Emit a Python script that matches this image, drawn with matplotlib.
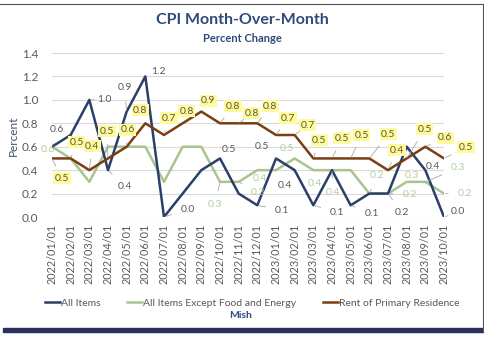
import matplotlib.pyplot as plt
from matplotlib.lines import Line2D
from matplotlib.patches import Rectangle

plt.rcParams["font.family"] = ["Lato", "DejaVu Sans"]

months = [
    "2022/01/01", "2022/02/01", "2022/03/01", "2022/04/01", "2022/05/01",
    "2022/06/01", "2022/07/01", "2022/08/01", "2022/09/01", "2022/10/01",
    "2022/11/01", "2022/12/01", "2023/01/01", "2023/02/01", "2023/03/01",
    "2023/04/01", "2023/05/01", "2023/06/01", "2023/07/01", "2023/08/01",
    "2023/09/01", "2023/10/01",
]
all_items = [0.6, 0.7, 1.0, 0.4, 0.9, 1.2, 0.0, 0.2, 0.4, 0.5, 0.2,
             0.1, 0.5, 0.4, 0.1, 0.4, 0.1, 0.2, 0.2, 0.6, 0.4, 0.0]
core = [0.6, 0.5, 0.3, 0.6, 0.6, 0.6, 0.3, 0.6, 0.6, 0.3, 0.3,
        0.4, 0.4, 0.5, 0.4, 0.4, 0.4, 0.2, 0.2, 0.3, 0.3, 0.2]
rent = [0.5, 0.5, 0.4, 0.5, 0.6, 0.8, 0.7, 0.8, 0.9, 0.8, 0.8,
        0.8, 0.7, 0.7, 0.5, 0.5, 0.5, 0.5, 0.4, 0.5, 0.6, 0.5]

# which points carry a data label, and where the label sits (pixel offsets)
blue_labels = {0: (5, 17), 2: (15, 0), 3: (17, -16), 4: (-2, 24), 5: (13, 5),
               6: (24, 8), 9: (9, 9), 11: (25, -5), 12: (-14, 12),
               13: (-10, -15), 14: (24, -7), 16: (21, -8), 18: (14, -19),
               20: (8, 4), 21: (14, 5)}
green_labels = {0: (-4, -3), 9: (-5, -23), 10: (19, -11), 11: (3, -8),
                13: (-8, 10), 14: (2, -13), 15: (1, -22), 17: (8, 18),
                18: (22, -1), 19: (5, 6), 20: (33, 14), 21: (21, 0)}
rent_labels = {0: (10, -20), 1: (6, 16), 2: (3, 24), 3: (-1, 27), 4: (1, 17),
               5: (-5, 13), 6: (5, 17), 7: (4, 12), 8: (7, 11), 9: (13, 17),
               10: (13, 10), 11: (13, 17), 12: (12, 17), 13: (13, 10),
               14: (6, 18), 15: (10, 20), 16: (11, 23), 17: (19, 24),
               18: (9, 20), 19: (18, 29), 20: (20, 9), 21: (22, 11)}

BLUE = "#2B3F6B"
GREEN = "#A9C490"
BROWN = "#7A3E12"
TITLE = "#2F4B7C"


def add_labels(ax, values, labels, color, box=None):
    for i, (dx, dy) in labels.items():
        lead = (dx * dx + dy * dy) ** 0.5 > 14
        ax.annotate(
            f"{values[i]:.1f}", xy=(i, values[i]), xytext=(dx, dy),
            textcoords="offset pixels", ha="center", va="center",
            fontsize=7.5, color=color, bbox=box, zorder=5,
            arrowprops=dict(arrowstyle="-", color="#A6A6A6", lw=0.6,
                            shrinkA=5, shrinkB=1) if lead else None,
        )


def main():
    fig = plt.figure(figsize=(4.85, 3.37), dpi=100)
    ax = fig.add_axes([52 / 485, 1 - 217 / 337, 392 / 485, 164 / 337])

    x = range(len(months))
    ax.plot(x, all_items, color=BLUE, lw=1.8, zorder=3)
    ax.plot(x, core, color=GREEN, lw=1.8, zorder=2)
    ax.plot(x, rent, color=BROWN, lw=1.8, zorder=3)

    add_labels(ax, all_items, blue_labels, "#595959")
    add_labels(ax, core, green_labels, "#B3CC9C")
    add_labels(ax, rent, rent_labels, "#5A5A30",
               box=dict(boxstyle="square,pad=0.15", fc="#FFF9A0", ec="none"))

    ax.set_xlim(0, len(months) - 1)
    ax.set_ylim(0, 1.4)
    ax.set_yticks([0.0, 0.2, 0.4, 0.6, 0.8, 1.0, 1.2, 1.4])
    ax.set_yticklabels([f"{v:.1f}" for v in ax.get_yticks()])
    ax.set_xticks(list(x))
    ax.set_xticklabels(months, rotation=90)
    ax.tick_params(axis="y", length=0, labelsize=8.5, colors="#595959", pad=10)
    ax.tick_params(axis="x", length=0, labelsize=7.8, colors="#595959", pad=5)
    ax.grid(axis="y", color="#D9D9D9", lw=0.8)
    ax.set_axisbelow(True)
    for s in ax.spines.values():
        s.set_visible(False)
    fig.text(13 / 485, 1 - 136 / 337, "Percent", rotation=90, ha="center",
             va="center", fontsize=8.5, color="#44546A")

    fig.text(0.5, 1 - 20 / 337, "CPI Month-Over-Month", ha="center",
             va="center", fontsize=11.5, fontweight="bold", color=TITLE)
    fig.text(0.5, 1 - 38 / 337, "Percent Change", ha="center", va="center",
             fontsize=8, fontweight="bold", color=TITLE)

    handles = [Line2D([], [], color=BLUE, lw=1.8),
               Line2D([], [], color=GREEN, lw=1.8),
               Line2D([], [], color=BROWN, lw=1.8)]
    names = ["All Items", "All Items Except Food and Energy",
             "Rent of Primary Residence"]
    fig.legend(handles, names, loc="center", ncol=3, frameon=False,
               bbox_to_anchor=(0.52, 1 - 303 / 337), fontsize=7.5,
               labelcolor="#595959", handlelength=1.4, handletextpad=0.1,
               columnspacing=2.6)
    fig.text(0.495, 1 - 316 / 337, "Mish", ha="center", va="center",
             fontsize=7.5, fontweight="bold", color=TITLE)

    # border of the screenshot
    fig.add_artist(Rectangle((3 / 485, 1 - 332 / 337), 482 / 485, 4 / 337,
                             transform=fig.transFigure, color="#2A2F5E"))
    fig.add_artist(Line2D([0, 1], [1 - 4 / 337] * 2, color="#555555",
                          lw=0.8, transform=fig.transFigure))
    fig.add_artist(Line2D([483 / 485] * 2, [1 - 332 / 337, 1 - 4 / 337],
                          color="#555555", lw=0.8, transform=fig.transFigure))

    fig.savefig("out.png", dpi=100)


if __name__ == "__main__":
    main()
